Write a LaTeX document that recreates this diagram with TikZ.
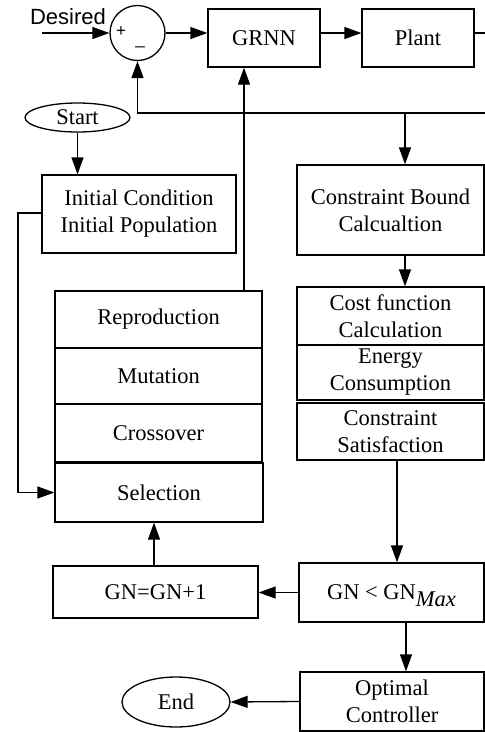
\documentclass[tikz,border=0pt]{standalone}
\usepackage{fontspec}
\setmainfont{Liberation Serif}
\newfontfamily\arialfont{Liberation Sans}
\usetikzlibrary{arrows.meta,shapes.geometric}
\begin{document}
\begin{tikzpicture}[x=1pt,y=-1pt,
  every node/.style={font=\fontsize{22.5}{27}\selectfont},
  box/.style={draw,line width=1.3pt,rectangle,inner sep=0pt,align=center},
  oval/.style={draw,line width=1.3pt,ellipse,inner sep=0pt},
  conn/.style={line width=1.3pt},
  arr/.style={line width=1.3pt,-{Triangle[length=17pt,width=12pt]}}]
\useasboundingbox (0,0) rectangle (485,732);
% top loop
\node[draw,line width=1.3pt,circle,minimum size=55pt,inner sep=0pt] (sum) at (137.5,33) {};
\node[font=\fontsize{17}{18}\arialfont] (plus) at (121,32) {+};
\node[font=\fontsize{17}{18}\arialfont] (minus) at (140,46) {\_};
\node[font=\fontsize{22}{26}\arialfont,anchor=center] (des) at (68,17) {Desired};
\coordinate (in) at (42,33);
\node[box,minimum width=112pt,minimum height=58pt] (grnn) at (264,38) {GRNN};
\node[box,minimum width=112pt,minimum height=58pt] (plant) at (418,38) {Plant};
\coordinate (out) at (486,33);
\coordinate (fbr) at (486,113);
\coordinate (tap) at (405,113);
\draw[arr] (in) -- (sum.west);
\draw[arr] (sum.east) -- (sum.east -| grnn.west);
\draw[arr] (grnn.east |- sum.east) -- (plant.west |- sum.east);
\draw[conn] (plant.east |- sum.east) -- (out);
\draw[arr] (fbr) -- (sum.south |- fbr) -- (sum.south);
% right column
\node[box,minimum width=187pt,minimum height=90pt] (cb) at (390.5,210) {Constraint Bound\\Calcualtion};
\node[box,minimum width=187pt,minimum height=58pt] (cost) at (390.5,316) {Cost function\\Calculation};
\node[box,minimum width=187pt,minimum height=55pt] (energy) at (390.5,372.5) {Energy\\Consumption};
\node[box,minimum width=187pt,minimum height=57pt] (csat) at (390.5,431.5) {Constraint\\Satisfaction};
\draw[arr] (tap) -- (tap |- cb.north);
\draw[arr] (cb.south -| tap) -- (cost.north -| tap);
\node[box,minimum width=185pt,minimum height=59pt] (gn) at (391.5,592.5) {GN < GN\raisebox{-7pt}[0pt][0pt]{\itshape Max}};
\coordinate (cs1) at (397,460);
\draw[arr] (csat.south -| cs1) -- (gn.north -| cs1);
\node[box,minimum width=205pt,minimum height=52pt] (gnp) at (155.5,592) {GN=GN+1};
\draw[arr] (gn.west) -- (gnp.east |- gn.west);
\node[box,minimum width=184pt,minimum height=59pt] (opt) at (392,701.5) {Optimal\\Controller};
\coordinate (g1) at (406,622);
\draw[arr] (g1) -- (g1 |- opt.north);
\node[oval,minimum width=108pt,minimum height=50pt] (end) at (176,702) {End};
\draw[arr] (opt.west) -- (end.east);
% left column
\node[oval,minimum width=105pt,minimum height=29pt] (start) at (77.5,117.5) {Start};
\node[box,minimum width=194pt,minimum height=78pt] (init) at (139,214) {Initial Condition\\Initial Population};
\draw[arr] (start.south) -- (start.south |- init.north);
\node[box,minimum width=207pt,minimum height=57pt] (repro) at (158.5,319.5) {Reproduction};
\node[box,minimum width=207pt,minimum height=56pt] (mut) at (158.5,376) {Mutation};
\node[box,minimum width=207pt,minimum height=58pt] (cross) at (158.5,433) {Crossover};
\node[box,minimum width=208pt,minimum height=59pt] (sel) at (159,492.5) {Selection};
\coordinate (lft) at (18,213);
\draw[arr] (init.west |- lft) -- (lft) -- (lft |- sel.west) -- (sel.west);
\coordinate (up) at (244,290);
\draw[arr] (repro.north -| up) -- (grnn.south -| up);
\draw[arr] (gnp.north -| 154,0) -- (sel.south -| 154,0);
\end{tikzpicture}
\end{document}
